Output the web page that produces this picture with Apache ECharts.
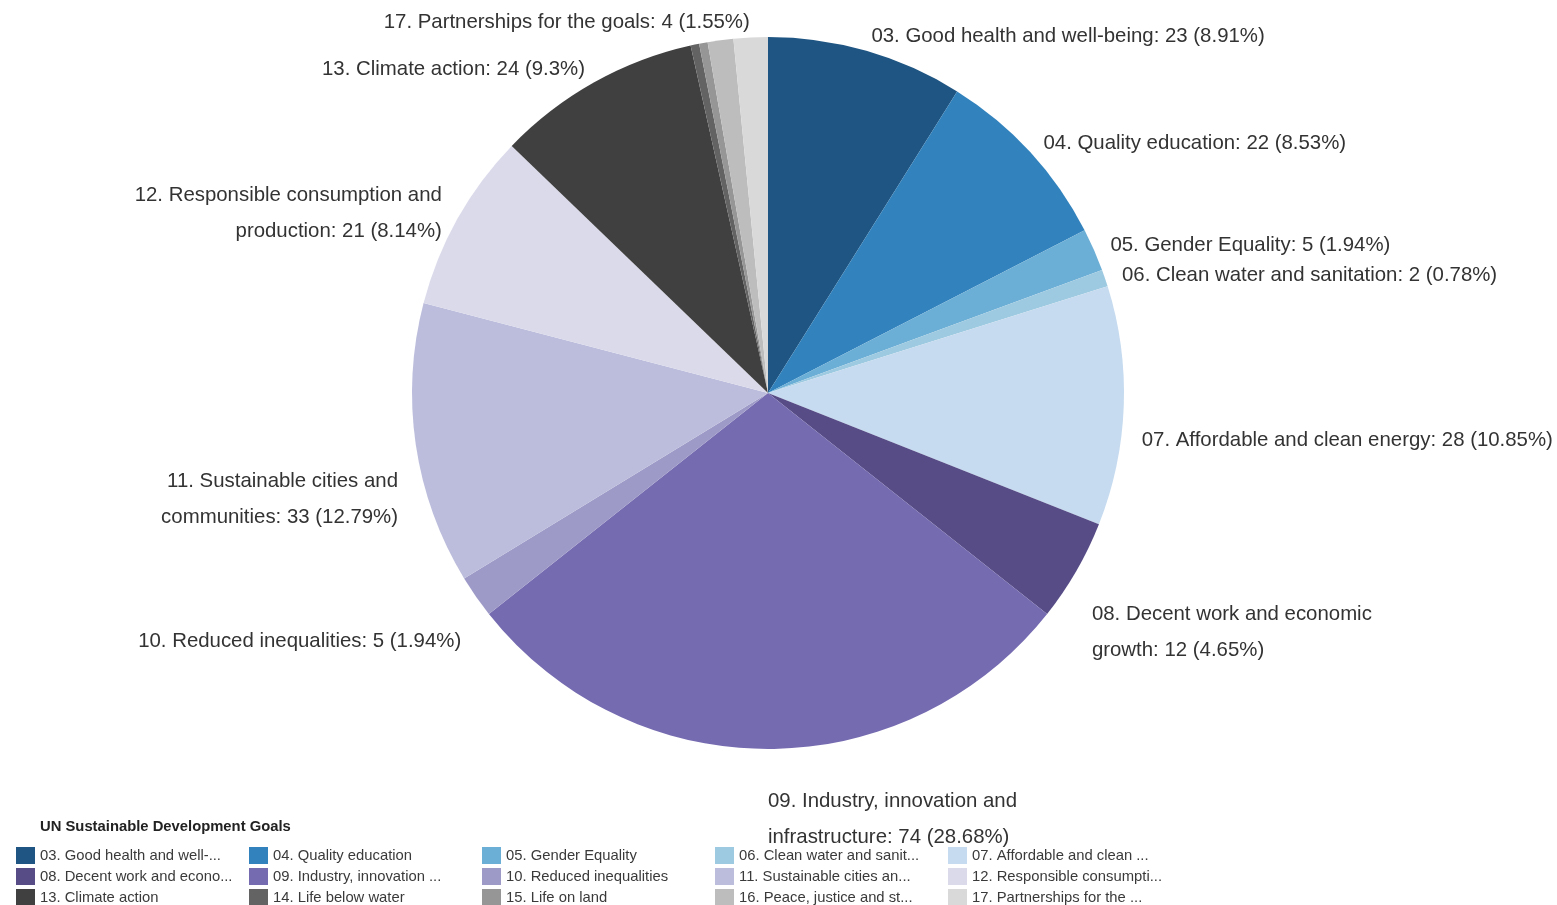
<!DOCTYPE html>
<html>
<head>
<meta charset="utf-8">
<title>UN Sustainable Development Goals</title>
<script src="https://cdn.jsdelivr.net/npm/echarts@6/dist/echarts.min.js"></script>
<style>
  html, body { margin: 0; padding: 0; background: #ffffff; }
  #chart { width: 1557px; height: 905px; }
</style>
</head>
<body>
<div id="chart"></div>
<script>
// Goal names, in slice order (clockwise from 12 o'clock)
const goals = [
  '03. Good health and well-being',
  '04. Quality education',
  '05. Gender Equality',
  '06. Clean water and sanitation',
  '07. Affordable and clean energy',
  '08. Decent work and economic growth',
  '09. Industry, innovation and infrastructure',
  '10. Reduced inequalities',
  '11. Sustainable cities and communities',
  '12. Responsible consumption and production',
  '13. Climate action',
  '14. Life below water',
  '15. Life on land',
  '16. Peace, justice and strong institutions',
  '17. Partnerships for the goals'
];

// Number of items per goal
const counts = [23, 22, 5, 2, 28, 12, 74, 5, 33, 21, 24, 1, 1, 3, 4];

// Slice label text (long names wrap onto a second line)
const labelNames = [
  '03. Good health and well-being',
  '04. Quality education',
  '05. Gender Equality',
  '06. Clean water and sanitation',
  '07. Affordable and clean energy',
  '08. Decent work and economic\ngrowth',
  '09. Industry, innovation and\ninfrastructure',
  '10. Reduced inequalities',
  '11. Sustainable cities and\ncommunities',
  '12. Responsible consumption and\nproduction',
  '13. Climate action',
  '14. Life below water',
  '15. Life on land',
  '16. Peace, justice and strong institutions',
  '17. Partnerships for the goals'
];

// Goals whose slices carry no label
const hiddenLabels = ['14. Life below water', '15. Life on land', '16. Peace, justice and strong institutions'];

// Shortened names shown in the legend
const legendNames = [
  '03. Good health and well-...',
  '04. Quality education',
  '05. Gender Equality',
  '06. Clean water and sanit...',
  '07. Affordable and clean ...',
  '08. Decent work and econo...',
  '09. Industry, innovation ...',
  '10. Reduced inequalities',
  '11. Sustainable cities an...',
  '12. Responsible consumpti...',
  '13. Climate action',
  '14. Life below water',
  '15. Life on land',
  '16. Peace, justice and st...',
  '17. Partnerships for the ...'
];

// Blue / purple / grey families
const colors = [
  '#1f5582', '#3182bd', '#6baed6', '#9ecae1', '#c6dbef',
  '#574c86', '#756bb1', '#9e9ac8', '#bcbddc', '#dadaeb',
  '#404040', '#636363', '#969696', '#bdbdbd', '#d9d9d9'
];

const FONT = '"Liberation Sans", Arial, sans-serif';
const CENTER_Y = 393;

const chart = echarts.init(document.getElementById('chart'), null, { renderer: 'canvas' });

const seriesData = goals.map(function (name, i) {
  const item = { name: name, value: counts[i] };
  if (hiddenLabels.indexOf(name) >= 0) {
    item.label = { show: false };
  }
  return item;
});

chart.setOption({
  animation: false,
  backgroundColor: '#ffffff',
  color: colors,
  title: {
    text: 'UN Sustainable Development Goals',
    left: 40,
    top: 819,
    padding: 0,
    textStyle: { fontFamily: FONT, fontSize: 14.8, fontWeight: 'bold', color: '#222222' }
  },
  legend: {
    left: 16,
    top: 847,
    width: 1170,
    padding: 0,
    orient: 'horizontal',
    icon: 'rect',
    itemWidth: 19,
    itemHeight: 17,
    itemGap: 4,
    selectedMode: false,
    data: goals,
    formatter: function (name) {
      return legendNames[goals.indexOf(name)];
    },
    textStyle: {
      fontFamily: FONT,
      fontSize: 14.8,
      color: '#3a3a3a',
      width: 205,
      lineHeight: 17
    }
  },
  series: [{
    type: 'pie',
    center: [768, CENTER_Y],
    radius: 356,
    startAngle: 90,
    clockwise: true,
    avoidLabelOverlap: false,
    itemStyle: { borderWidth: 0 },
    emphasis: { disabled: true },
    label: {
      show: true,
      position: 'outside',
      distanceToLabelLine: 0,
      fontFamily: FONT,
      fontSize: 20.4,
      lineHeight: 36,
      color: '#333333',
      formatter: function (p) {
        return labelNames[p.dataIndex] + ': ' + p.value + ' (' + p.percent + '%)';
      }
    },
    labelLine: { show: false, length: 18, length2: 0 },
    // labels in the lower half hang below their anchor point
    labelLayout: function (p) {
      const r = p.labelRect;
      if (r.y + r.height / 2 > CENTER_Y) {
        return { dy: r.height / 2 + 16 };
      }
      return { dy: 3 };
    },
    data: seriesData
  }]
});
</script>
</body>
</html>
